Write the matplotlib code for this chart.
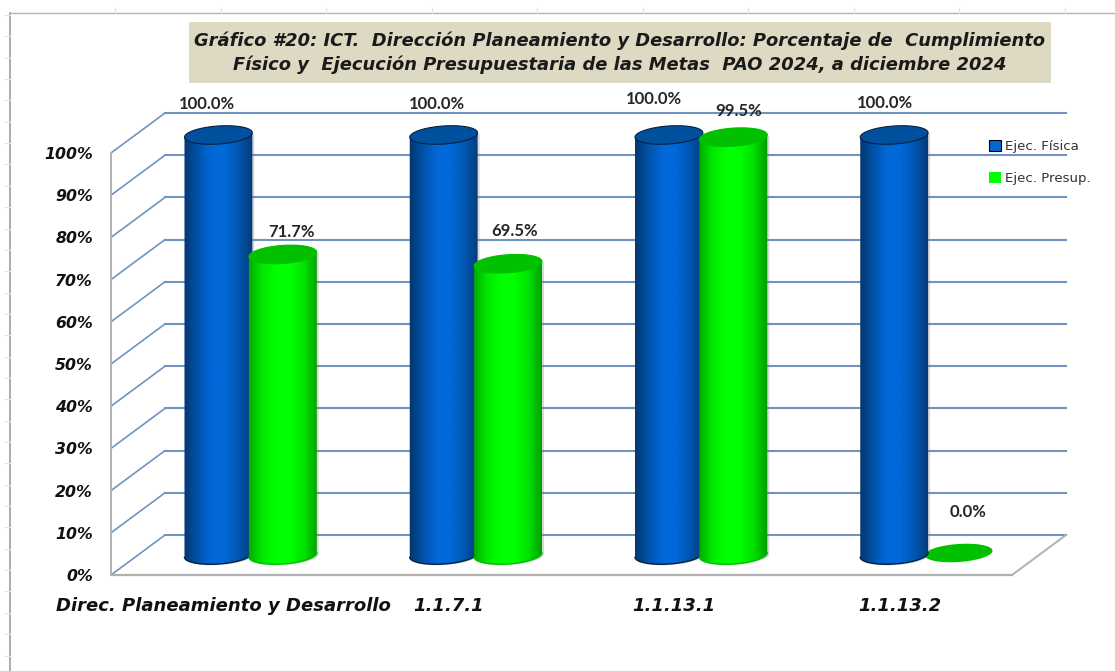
import numpy as np
import matplotlib
matplotlib.use("Agg")
import matplotlib.pyplot as plt
from matplotlib.colors import LinearSegmentedColormap
from matplotlib.patches import Patch, Polygon
from matplotlib.transforms import IdentityTransform

W, H = 1115, 671

categorias = ["Direc. Planeamiento y Desarrollo", "1.1.7.1", "1.1.13.1", "1.1.13.2"]
ejec_fisica = [100.0, 100.0, 100.0, 100.0]
ejec_presup = [71.7, 69.5, 99.5, 0.0]
y_ticks = [0, 10, 20, 30, 40, 50, 60, 70, 80, 90, 100]
titulo = ("Gráfico #20: ICT.  Dirección Planeamiento y Desarrollo: Porcentaje de  Cumplimiento\n"
          "Físico y  Ejecución Presupuestaria de las Metas  PAO 2024, a diciembre 2024")

# label nudges in px from the top of each cylinder
off_fisica = [(-11, 29), (-7, 29), (-15, 34), (-9, 30)]
off_presup = [(9, 20), (6, 31), (5, 24), (9, 43)]

FUENTE = "DejaVu Sans"
DEPTH_X, DEPTH_Y = 54, 40
RX, RY, TILT = 34, 9, np.radians(4)

fig = plt.figure(figsize=(W / 100, H / 100), dpi=100)
ax = fig.add_axes([111 / W, 1 - 575 / H, (1012 - 111) / W, (575 - 153) / H])
ax.set_xlim(0, 4)
ax.set_ylim(0, 100)
ax.set_facecolor("none")
ax.set_zorder(5)
for s in ax.spines.values():
    s.set_visible(False)


def px(x, y, d=0.0):
    # data -> display, d is depth 0 (front) .. 1 (back wall)
    p = ax.transData.transform((x, y))
    return p[0] + d * DEPTH_X, p[1] + d * DEPTH_Y


def linea(a, b, **kw):
    fig.add_artist(plt.Line2D([a[0], b[0]], [a[1], b[1]], transform=IdentityTransform(), **kw))


def elipse(cx, cy, t):
    xs = RX * np.cos(t)
    ys = RY * np.sin(t)
    return (cx + xs * np.cos(TILT) - ys * np.sin(TILT),
            cy + xs * np.sin(TILT) + ys * np.cos(TILT))


def cilindro(x, valor, cmap, tapa, borde, z):
    cx, y0 = px(x, 0, 0.5)
    _, y1 = px(x, valor, 0.5)
    y1 -= 2
    t = np.linspace(0, 2 * np.pi, 120)
    if valor == 0:
        ex, ey = elipse(cx, y0 + 2, t)
        ax.add_patch(Polygon(np.c_[ex, ey], closed=True, facecolor=tapa, edgecolor="none",
                             transform=IdentityTransform(), clip_on=False, zorder=z - 2))
        return
    ab = np.linspace(np.pi, 2 * np.pi, 60)
    bx, by = elipse(cx, y0, ab)
    cx_top, cy_top = elipse(cx, y1, np.array([0.0, np.pi]))
    cuerpo = np.r_[[(cx_top[1], cy_top[1])], np.c_[bx, by], [(cx_top[0], cy_top[0])]]

    # soft shadow on the right
    ax.add_patch(Polygon(cuerpo + [2, -1], closed=True, facecolor="#808080", alpha=0.3,
                         edgecolor="none", transform=IdentityTransform(), clip_on=False, zorder=z - 1))
    poly = Polygon(cuerpo, closed=True, facecolor="none", edgecolor="none",
                   transform=IdentityTransform(), clip_on=False, zorder=z)
    ax.add_patch(poly)
    grad = np.linspace(0, 1, 128).reshape(1, -1)
    (ix0, iy0), (ix1, iy1) = (ax.transData.inverted().transform((cx - RX - 1, y0 - RY - 4)),
                              ax.transData.inverted().transform((cx + RX + 1, y1 + RY)))
    im = ax.imshow(grad, cmap=cmap, extent=[ix0, ix1, iy0, iy1], aspect="auto", zorder=z)
    im.set_clip_path(poly)
    im.set_clip_box(fig.bbox)
    ax.plot(bx, by, color=borde, lw=1.0, transform=IdentityTransform(), clip_on=False, zorder=z + 0.1)

    ex, ey = elipse(cx, y1, t)
    ax.add_patch(Polygon(np.c_[ex, ey], closed=True, facecolor=tapa, edgecolor=borde, lw=0.8,
                         transform=IdentityTransform(), clip_on=False, zorder=z + 0.2))


# worksheet remains behind the chart
fig.add_artist(plt.Line2D([10, 10], [0, H - 13], transform=IdentityTransform(), color="#a6a6a6", lw=1.3))
fig.add_artist(plt.Line2D([10, W], [H - 13, H - 13], transform=IdentityTransform(), color="#b5b5b5", lw=1.0))
for yy in np.arange(15, H, 21.35):
    fig.add_artist(plt.Line2D([5, 10], [H - yy, H - yy], transform=IdentityTransform(), color="#e2e2e2", lw=0.8))
for xx in np.arange(115, W, 105.5):
    fig.add_artist(plt.Line2D([xx, xx], [H - 13, H - 8], transform=IdentityTransform(), color="#e2e2e2", lw=0.8))

# grid on side and back walls
GRID = "#6f94bd"
for v in y_ticks[1:] + [0]:
    linea(px(0, v, 0), px(0, v, 1), color=GRID, lw=1.2, zorder=1)
    linea(px(0, v, 1), px(4, v, 1), color=GRID, lw=1.5, zorder=1)

# front axis and floor
GRIS = "#b0b0b0"
linea(px(0, 0), px(0, 100), color=GRIS, lw=1.4, zorder=2)
linea(px(0, 0), px(4, 0), color=GRIS, lw=1.6, zorder=2)
linea(px(4, 0), px(4, 0, 1), color=GRIS, lw=1.4, zorder=2)

azul = LinearSegmentedColormap.from_list("azul", ["#06356b", "#0052a8", "#0068d8", "#0068d8", "#0056b0", "#053a75"])
verde = LinearSegmentedColormap.from_list("verde", ["#00a800", "#00e800", "#00ff00", "#00ff00", "#00e000", "#009a00"])

for i in range(len(categorias)):
    cilindro(i + 0.5 - 0.143, ejec_fisica[i], azul, "#00509e", "#04213f", 5)
    cilindro(i + 0.5 + 0.143, ejec_presup[i], verde, "#00c000", "#00c000", 6)

    xa, ya = px(i + 0.5 - 0.143, ejec_fisica[i], 0.5)
    ax.text(xa + off_fisica[i][0], ya + off_fisica[i][1], f"{ejec_fisica[i]:.1f}%",
            transform=IdentityTransform(), ha="center", va="center", fontsize=12,
            fontweight="bold", family="Lato", color="#262626", clip_on=False, zorder=10)
    xb, yb = px(i + 0.5 + 0.143, ejec_presup[i], 0.5)
    ax.text(xb + off_presup[i][0], yb + off_presup[i][1], f"{ejec_presup[i]:.1f}%",
            transform=IdentityTransform(), ha="center", va="center", fontsize=12,
            fontweight="bold", family="Lato", color="#262626", clip_on=False, zorder=10)

ax.set_yticks(y_ticks)
ax.set_yticklabels([f"{v}%" for v in y_ticks], family=FUENTE, fontsize=11.3, fontweight="bold", style="italic", color="#111111")
ax.set_xticks([i + 0.5 for i in range(len(categorias))])
ax.set_xticklabels(categorias, family=FUENTE, fontsize=13, fontweight="bold", style="italic", color="#111111")
ax.tick_params(axis="y", length=0, pad=13)
ax.tick_params(axis="x", length=0, pad=16)

# title block
fig.text(620 / W, 1 - 52.5 / H, titulo, ha="center", va="center", family=FUENTE, fontsize=12.9,
         fontweight="bold", style="italic", color="#1a1a1a", linespacing=1.35)
fig.patches.append(plt.Rectangle((189 / W, 1 - 83 / H), 862 / W, 61 / H, transform=fig.transFigure,
                                 facecolor="#ddd9c3", edgecolor="none", zorder=-1, figure=fig))

handles = [Patch(facecolor="#0068d0", edgecolor="black", lw=0.8, label="Ejec. Física"),
           Patch(facecolor="#00ff00", edgecolor="none", label="Ejec. Presup.")]
leg = fig.legend(handles=handles, loc="upper left", bbox_to_anchor=(977 / W, 1 - 128 / H), frameon=False,
                 prop={"family": "DejaVu Sans", "size": 9.6}, labelspacing=1.4, handlelength=0.9, handleheight=0.9,
                 handletextpad=0.3, labelcolor="#333333")
leg.set_zorder(20)

fig.savefig("out.png", dpi=100)
